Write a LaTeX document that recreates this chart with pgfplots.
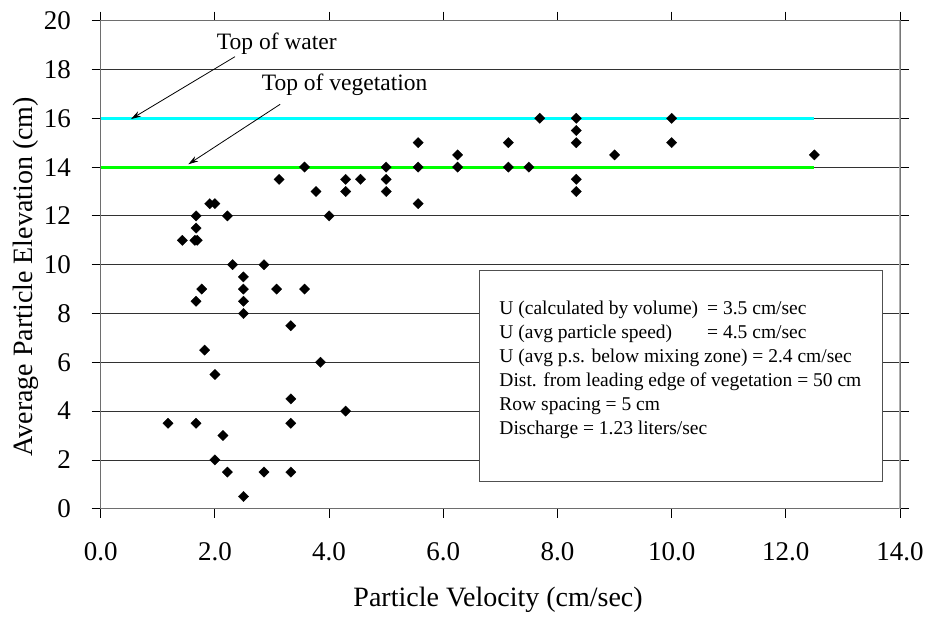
\documentclass[border=0pt]{standalone}
\usepackage{pgfplots}
\pgfplotsset{compat=1.18}
\usepackage{fontspec}
\setmainfont{Liberation Serif}
\usetikzlibrary{arrows.meta}
\definecolor{axgray}{RGB}{110,110,110}
\definecolor{gridgray}{RGB}{50,50,50}
\definecolor{rightgray}{RGB}{175,175,175}
\definecolor{boxgray}{RGB}{80,80,80}
\definecolor{watercyan}{RGB}{0,255,255}
\definecolor{veggreen}{RGB}{0,255,0}
\newcommand{\tickfont}{\fontsize{27}{32}\selectfont}
\newcommand{\labfont}{\fontsize{28}{33}\selectfont}
\newcommand{\boxfont}{\fontsize{19.5}{24}\selectfont}
\newcommand{\annfont}{\fontsize{23.5}{28}\selectfont}
\begin{document}
\begin{tikzpicture}
\useasboundingbox (0,0) rectangle (928pt,616pt);
\begin{axis}[
  at={(100.7pt,107.3pt)}, anchor=south west,
  scale only axis, width=799.3pt, height=488pt,
  xmin=0, xmax=14, ymin=0, ymax=20,
  xtick={0,2,...,14}, ytick={0,2,...,20},
  ymajorgrids, major grid style={gridgray, line width=0.8pt},
  tick align=outside, major tick length=9pt,
  tick style={black, line width=0.8pt},
  axis line style={axgray, line width=1.2pt},
  /pgf/number format/assume math mode=true,
  xticklabel={\pgfmathprintnumber[fixed,fixed zerofill,precision=1]{\tick}},
  yticklabel={\pgfmathprintnumber[fixed,precision=0]{\tick}},
  xticklabel style={font=\tickfont, anchor=base, inner sep=0pt, yshift=-42.3pt},
  yticklabel style={font=\tickfont, anchor=east, inner sep=0pt, xshift=-20.7pt},
  xlabel={Particle Velocity (cm/sec)},
  ylabel={Average Particle Elevation (cm)},
  xlabel style={at={(axis description cs:0.316,-0.2014)}, anchor=base west, inner sep=0pt, font=\labfont},
  ylabel style={at={(axis description cs:-0.0847,0.1066)}, anchor=base west, inner sep=0pt, rotate=0, font=\labfont},
]
\addplot[watercyan, line width=3pt, forget plot] coordinates {(0,16) (12.5,16)};
\addplot[veggreen, line width=3pt, forget plot] coordinates {(0,14) (12.5,14)};
\addplot[only marks, mark=square*, mark size=3.65pt,
  mark options={rotate=45, fill=black, draw=black, line width=0.3pt}] coordinates {
  (1.18,3.5) (1.67,3.5) (2.14,3.0) (2.0,2.0) (2.22,1.5) (2.5,0.5)
  (2.86,1.5) (3.33,1.5) (3.33,3.5) (3.33,4.5) (4.29,4.0)
  (1.67,8.5) (2.5,8.5) (2.5,8.0) (3.33,7.5) (1.82,6.5) (3.85,6.0) (2.0,5.5)
  (3.125,13.5) (3.57,14.0) (3.77,13.0) (4.29,13.5) (4.29,13.0) (4.55,13.5)
  (5.0,14.0) (5.0,13.5) (5.0,13.0)
  (1.91,12.5) (2.0,12.5) (1.67,12.0) (2.22,12.0) (4.0,12.0)
  (1.67,11.5) (1.43,11.0) (1.65,11.0) (1.69,11.0)
  (2.31,10.0) (2.86,10.0) (2.5,9.5) (1.77,9.0) (2.5,9.0) (3.08,9.0) (3.57,9.0)
  (5.56,15.0) (5.56,14.0) (5.56,12.5) (6.25,14.5) (6.25,14.0)
  (7.14,15.0) (7.14,14.0) (7.5,14.0) (7.69,16.0)
  (8.33,16.0) (8.33,15.5) (8.33,15.0) (8.33,13.5) (8.33,13.0)
  (9.0,14.5) (10.0,16.0) (10.0,15.0) (12.5,14.5)
};
\draw[rightgray, line width=1.2pt] (rel axis cs:1,0) -- (rel axis cs:1,1);
\draw[fill=white, draw=boxgray, line width=1pt] (axis cs:6.643,1.107) rectangle (axis cs:13.695,9.754);
\node[anchor=base west, inner sep=0pt, font=\boxfont] at (axis cs:6.981,7.939) {U (calculated by volume)};
\node[anchor=base west, inner sep=0pt, font=\boxfont] at (axis cs:10.62,7.939) {= 3.5 cm/sec};
\node[anchor=base west, inner sep=0pt, font=\boxfont] at (axis cs:10.62,6.959) {= 4.5 cm/sec};
\node[anchor=base west, inner sep=0pt, font=\boxfont] at (axis cs:6.981,6.959) {U (avg particle speed)};
\node[anchor=base west, inner sep=0pt, font=\boxfont] at (axis cs:6.981,5.980) {U (avg p.s. below mixing zone) = 2.4 cm/sec};
\node[anchor=base west, inner sep=0pt, font=\boxfont] at (axis cs:6.981,5.000) {Dist. from leading edge of vegetation = 50 cm};
\node[anchor=base west, inner sep=0pt, font=\boxfont] at (axis cs:6.981,4.020) {Row spacing = 5 cm};
\node[anchor=base west, inner sep=0pt, font=\boxfont] at (axis cs:6.981,3.041) {Discharge = 1.23 liters/sec};
\node[anchor=base west, inner sep=0pt, font=\annfont] at (axis cs:2.032,18.80) {Top of water};
\node[anchor=base west, inner sep=0pt, font=\annfont] at (axis cs:2.820,17.156) {Top of vegetation};
\draw[-{Stealth[length=10pt,width=6pt]}, line width=0.8pt] (axis cs:2.352,18.525) -- (axis cs:0.531,15.97);
\draw[-{Stealth[length=10pt,width=6pt]}, line width=0.8pt] (axis cs:3.143,16.574) -- (axis cs:1.534,14.115);
\end{axis}
\end{tikzpicture}
\end{document}
